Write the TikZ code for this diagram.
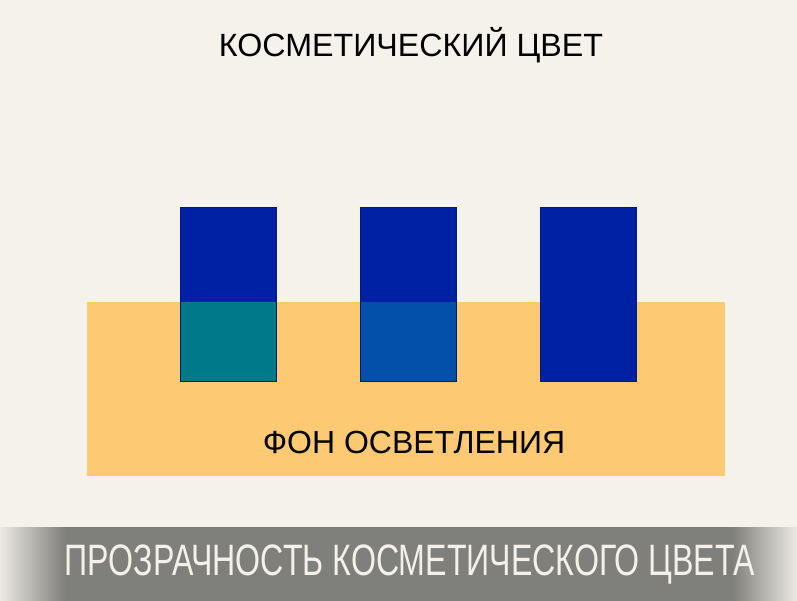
\documentclass[tikz,border=0pt]{standalone}
\usepackage{fontspec}
\setmainfont{Liberation Sans}
\newfontfamily\narrowfont[FakeStretch=0.73]{Liberation Sans}
\definecolor{bgc}{HTML}{F5F2EC}
\definecolor{orangec}{HTML}{FEC973}
\definecolor{bluec}{HTML}{0021A3}
\definecolor{tealc}{HTML}{00798A}
\definecolor{midbluec}{HTML}{0350AA}
\definecolor{bandc}{HTML}{7F7F7B}
\definecolor{bandtext}{HTML}{F4F1EA}
\tikzset{
  bar/.style={fill=bluec, draw=bluec!80!black, line width=0.6pt},
  overlay/.style={draw=bluec!80!black, line width=0.6pt},
}
\begin{document}
\begin{tikzpicture}[x=1pt,y=-1pt]
\useasboundingbox (0,0) rectangle (797,600);
\fill[bgc] (-5,-5) rectangle (802,605);
% orange background
\fill[orangec] (87,302) rectangle (725,476);
% bars
\draw[bar] (180,207) rectangle (276,381);
\draw[bar] (360,207) rectangle (456,381);
\draw[bar] (540,207) rectangle (636,381);
% overlays
\fill[tealc] (180,302) rectangle (276,381);
\fill[midbluec] (360,302) rectangle (456,381);
\draw[overlay] (180,207) rectangle (276,381);
\draw[overlay] (360,207) rectangle (456,381);
% texts
\node[font=\fontsize{32.2}{38}\selectfont, text=black] (title) at (411,45) {КОСМЕТИЧЕСКИЙ ЦВЕТ};
\node[font=\fontsize{32}{36}\selectfont, text=black] (base) at (414,442) {ФОН ОСВЕТЛЕНИЯ};
% bottom band
\fill[bandc] (64,527) rectangle (733,605);
\shade[left color=bgc, right color=bandc] (-5,527) rectangle (65,605);
\shade[left color=bandc, right color=bgc] (732,527) rectangle (802,605);
\node[font=\narrowfont\fontsize{44}{48}\selectfont, text=bandtext] (caption) at (410,565) {ПРОЗРАЧНОСТЬ КОСМЕТИЧЕСКОГО ЦВЕТА};
\end{tikzpicture}
\end{document}
